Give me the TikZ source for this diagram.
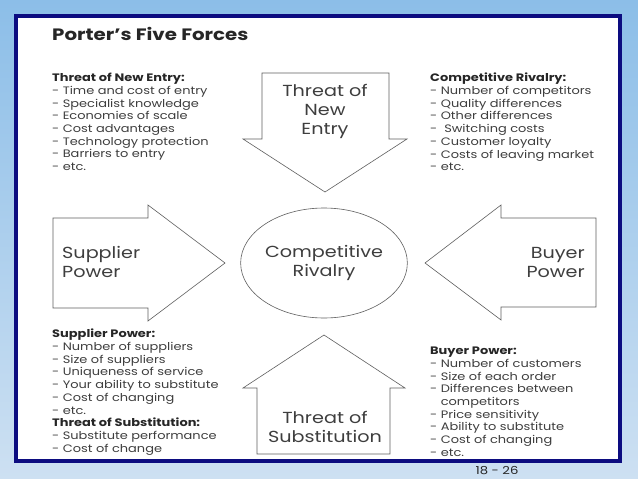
\documentclass[tikz,border=0pt]{standalone}
\usepackage{fontspec}
\setmainfont[FakeStretch=1.2]{Poppins}
\usetikzlibrary{shapes.geometric}
\usepackage{xcolor}
\definecolor{framenavy}{RGB}{12,12,128}
\definecolor{skytop}{RGB}{140,190,232}
\definecolor{skybottom}{RGB}{205,224,242}
\definecolor{inkgray}{RGB}{62,62,62}
\definecolor{linegray}{RGB}{95,95,95}

\tikzset{
  force/.style={draw=linegray, line width=0.6pt, fill=white, line join=miter},
  forcelabel/.style={text=inkgray, font=\fontsize{16}{19}\selectfont, inner sep=0pt},
  factorlist/.style={text=inkgray, font=\fontsize{10.8}{12.7}\selectfont, align=left, anchor=north west, inner sep=0pt},
}

\begin{document}
\begin{tikzpicture}[x=1pt, y=-1pt]
    \useasboundingbox (0,0) rectangle (638,479);
    \clip (0,0) rectangle (638,479);

    % slide background and frame
    \shade[top color=skytop, bottom color=skybottom] (0,0) rectangle (638,479);
    \draw[framenavy, line width=4pt, fill=white] (16,16) rectangle (620,461);
    \node[anchor=south, text=black!85, font=\fontsize{11}{11}\selectfont, inner sep=0pt] (pageno) at (497,475) {18 - 26};

    % title
    \node[anchor=north west, inner sep=0pt, text=black!85, font=\fontsize{16.5}{18}\selectfont\bfseries] (title) at (52,27) {Porter's Five Forces};

    % Threat of New Entry
    \draw[force] (262,73) -- (389,73) -- (389,139) -- (407,139) -- (325,192) -- (243,139) -- (262,139) -- cycle;
    \node[forcelabel, align=center] (newentry) at (325,111) {Threat of\\New\\Entry};

    % Supplier Power
    \draw[force] (53,218) -- (148,218) -- (148,205) -- (225,263) -- (148,321) -- (148,308) -- (53,308) -- cycle;
    \node[forcelabel, align=left, anchor=west] (supplier) at (62,262) {Supplier\\Power};

    % Buyer Power
    \draw[force] (596,218) -- (501,218) -- (501,205) -- (425,263) -- (501,320) -- (501,307) -- (596,307) -- cycle;
    \node[forcelabel, align=right, anchor=east] (buyer) at (585,262) {Buyer\\Power};

    % Threat of Substitution
    \draw[force] (324,335) -- (405,388) -- (390,388) -- (390,454) -- (257,454) -- (257,388) -- (243,388) -- cycle;
    \node[forcelabel, align=center] (substitution) at (325,427) {Threat of\\Substitution};

    % Competitive Rivalry
    \node[ellipse, force, forcelabel, align=center, minimum width=158pt, minimum height=110pt] (rivalry) at (324,263) {Competitive\\Rivalry};

    % factor lists
    \node[factorlist] (entrylist) at (52,73) {\textbf{\color{black!85}Threat of New Entry:}\\
      - Time and cost of entry\\
      - Specialist knowledge\\
      - Economies of scale\\
      - Cost advantages\\
      - Technology protection\\
      - Barriers to entry\\
      - etc.};
    \node[factorlist] (rivalrylist) at (430,73) {\textbf{\color{black!85}Competitive Rivalry:}\\
      - Number of competitors\\
      - Quality differences\\
      - Other differences\\
      - \ Switching costs\\
      - Customer loyalty\\
      - Costs of leaving market\\
      - etc.};
    \node[factorlist] (supplierlist) at (52,329) {\textbf{\color{black!85}Supplier Power:}\\
      - Number of suppliers\\
      - Size of suppliers\\
      - Uniqueness of service\\
      - Your ability to substitute\\
      - Cost of changing\\
      - etc.\\
      \textbf{\color{black!85}Threat of Substitution:}\\
      - Substitute performance\\
      - Cost of change};
    \node[factorlist] (buyerlist) at (430,347) {\textbf{\color{black!85}Buyer Power:}\\
      - Number of customers\\
      - Size of each order\\
      - Differences between\\
      \phantom{- }competitors\\
      - Price sensitivity\\
      - Ability to substitute\\
      - Cost of changing\\
      - etc.};
\end{tikzpicture}
\end{document}
